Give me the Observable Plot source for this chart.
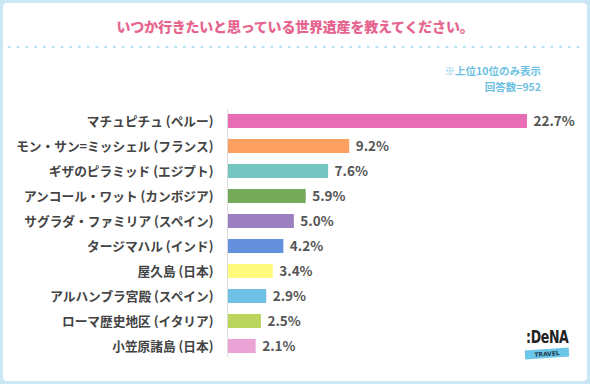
<!DOCTYPE html>
<html>
<head>
<meta charset="utf-8">
<script src="https://cdn.jsdelivr.net/npm/d3@7"></script>
<script src="https://cdn.jsdelivr.net/npm/@observablehq/plot@0.6"></script>
<style>
  html, body { margin: 0; padding: 0; background: #cbe7f6; }
  #frame { position: relative; width: 590px; height: 384px; background: #cbe7f6; overflow: hidden;
    font-family: "Noto Sans CJK JP", "Noto Sans", sans-serif; }
  #panel { position: absolute; left: 3px; top: 3px; width: 584px; height: 378px; background: #fff; border-radius: 4px; }
  #title { position: absolute; left: 0; width: 584px; top: 13px; text-align: center; font-size: 14px; font-weight: 900;
    color: #e6658f; letter-spacing: -0.2px; }
  #dots { position: absolute; left: 2px; top: 41px; width: 580px; height: 6px;
    background-image: radial-gradient(circle, #bfe2f2 1.3px, transparent 1.7px); background-size: 8.75px 6px; }
  #note { position: absolute; right: 46px; top: 60px; text-align: right; font-size: 10.5px; font-weight: 700;
    color: #6cc1e2; line-height: 15.5px; }
  #chart { position: absolute; left: 0; top: 100px; }
  #logo { position: absolute; left: 521px; top: 324px; width: 50px; height: 36px; }
  #logo .dena { position: absolute; left: 2px; top: 0; font-size: 17px; font-weight: 900; color: #222; letter-spacing: -0.5px;
    font-family: "DejaVu Sans", sans-serif; line-height: 20px; transform: scaleX(0.74); transform-origin: left top; white-space: nowrap; }
  #logo .travel { position: absolute; left: 1px; top: 22px; width: 44px; height: 9px; background: #6cc6e8;
    transform: rotate(-4deg); font-size: 6px; font-weight: 700; color: #1d3a52; text-align: center; line-height: 9px;
    font-family: "DejaVu Sans", sans-serif; }
</style>
</head>
<body>
<div id="frame">
  <div id="panel">
    <div id="title">いつか行きたいと思っている世界遺産を教えてください。</div>
    <div id="dots"></div>
    <div id="note"><div>※上位10位のみ表示</div><div>回答数=952</div></div>
    <div id="logo"><div class="dena">:DeNA</div><div class="travel">TRAVEL</div></div>
  </div>
  <div id="chart"></div>
</div>
<script>
const categories = [
  "マチュピチュ (ペルー)",
  "モン・サン=ミッシェル (フランス)",
  "ギザのピラミッド (エジプト)",
  "アンコール・ワット (カンボジア)",
  "サグラダ・ファミリア (スペイン)",
  "タージマハル (インド)",
  "屋久島 (日本)",
  "アルハンブラ宮殿 (スペイン)",
  "ローマ歴史地区 (イタリア)",
  "小笠原諸島 (日本)"
];
const values = [22.7, 9.2, 7.6, 5.9, 5.0, 4.2, 3.4, 2.9, 2.5, 2.1];
const colors = ["#e96db4", "#fba060", "#75c5c1", "#77a95a", "#9b7fc0", "#6490de", "#fdfa7c", "#6fc2e3", "#bbd55c", "#eba3d6"];

const data = categories.map((name, i) => ({name, value: values[i]}));
const font = "'Noto Sans CJK JP', 'Noto Sans', sans-serif";

const chart = Plot.plot({
  width: 590,
  height: 266,
  marginLeft: 228,
  marginRight: 63,
  marginTop: 9,
  marginBottom: 9,
  style: {fontFamily: font, background: "transparent", overflow: "visible"},
  x: {domain: [0, 22.7], axis: null},
  y: {domain: categories, paddingInner: 0.45, paddingOuter: 0.08, axis: null},
  color: {domain: categories, range: colors},
  marks: [
    Plot.ruleX([0], {stroke: "#dcdcdc", strokeWidth: 1, dx: -1}),
    Plot.barX(data, {x: "value", y: "name", fill: "name"}),
    Plot.text(data, {x: 0, y: "name", text: "name", textAnchor: "end", dx: -15, dy: 0.5,
      fontSize: 12.7, fontWeight: "bold", fill: "#444"}),
    Plot.text(data, {x: "value", y: "name", text: d => d.value.toFixed(1) + "%", textAnchor: "start", dx: 6, dy: 0.5,
      fontSize: 13.5, fontWeight: "bold", fill: "#555"})
  ]
});
document.getElementById("chart").appendChild(chart);
</script>
</body>
</html>
